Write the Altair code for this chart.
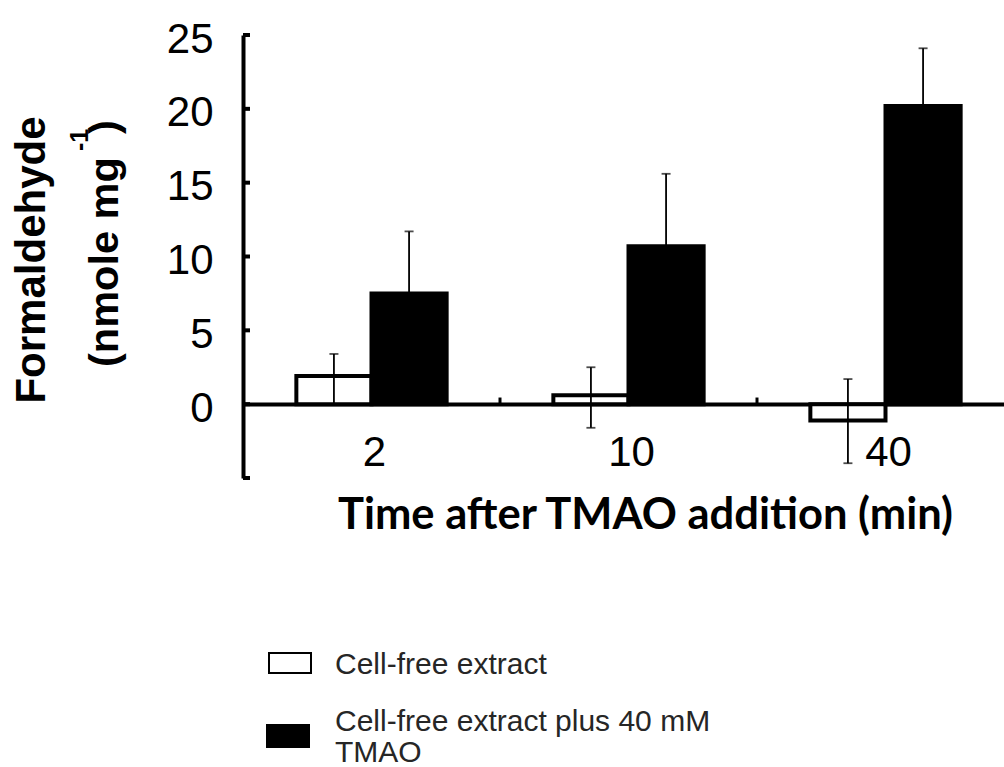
import altair as alt
import pandas as pd

# ---- data ----
times = ["2", "10", "40"]
series = ["Cell-free extract", "Cell-free extract plus 40 mM TMAO"]
cfe_mean = [1.9, 0.6, -1.1]
cfe_low = [0.0, -1.6, -4.0]
cfe_high = [3.4, 2.5, 1.7]
tmao_mean = [7.5, 10.7, 20.2]
tmao_low = [3.3, 5.8, 16.3]
tmao_high = [11.7, 15.6, 24.1]
y_tick_values = [-5, 0, 5, 10, 15, 20, 25]
y_label_values = [0, 5, 10, 15, 20, 25]
group_boundaries = ["10", "40"]

x_title = "Time after TMAO addition (min)"
y_title_1 = "Formaldehyde"
y_title_2a = "(nmole mg"
y_title_2b = "-1"
y_title_2c = ")"
legend_lines_1 = ["Cell-free extract"]
legend_lines_2 = ["Cell-free extract plus 40 mM", "TMAO"]

rows = []
for i, t in enumerate(times):
    rows.append({"time": t, "series": series[0], "mean": cfe_mean[i], "low": cfe_low[i], "high": cfe_high[i]})
    rows.append({"time": t, "series": series[1], "mean": tmao_mean[i], "low": tmao_low[i], "high": tmao_high[i]})
df = pd.DataFrame(rows)

W, H = 761, 443
FONT = "Liberation Sans"

x_scale = alt.Scale(domain=times, range=[0, 771], paddingInner=0, paddingOuter=0)
xo_scale = alt.Scale(domain=series, paddingInner=0, paddingOuter=0.71)
y_scale = alt.Scale(domain=[-5, 25], nice=False, zero=False)
fill_scale = alt.Scale(domain=series, range=["white", "black"])

x_enc = alt.X(
    "time:N",
    scale=x_scale,
    sort=times,
    axis=alt.Axis(
        orient="bottom", offset=-74, domainWidth=4, domainColor="black",
        ticks=False, labelFont=FONT, labelFontSize=42, labelColor="black",
        labelPadding=28, labelAngle=0, labelOffset=3,
        title=x_title, titleFont="Lato", titleFontWeight="bold",
        titleFontSize=43.5, titleColor="black", titleX=402, titleY=124,
        titleBaseline="alphabetic", titleAlign="center",
    ),
)
y_enc = alt.Y(
    "mean:Q",
    scale=y_scale,
    axis=alt.Axis(
        values=y_label_values, domainWidth=4, domainColor="black", ticks=False,
        grid=False, labelFont=FONT, labelFontSize=42, labelColor="black",
        labelPadding=30, labelOffset=4, title=None,
    ),
)

base = alt.Chart(df)

bars = base.mark_bar(stroke="black", strokeWidth=4).encode(
    x=x_enc,
    xOffset=alt.XOffset("series:N", scale=xo_scale, sort=series),
    y=y_enc,
    fill=alt.Fill("series:N", scale=fill_scale, legend=None),
    order=alt.Order("series:N"),
)

err = base.mark_rule(color="black", strokeWidth=1.8).encode(
    x=alt.X("time:N", scale=x_scale, sort=times),
    xOffset=alt.XOffset("series:N", scale=xo_scale, sort=series),
    y=alt.Y("low:Q", scale=y_scale),
    y2="high:Q",
)
cap_hi = base.mark_tick(color="black", thickness=1.8, size=9).encode(
    x=alt.X("time:N", scale=x_scale, sort=times),
    xOffset=alt.XOffset("series:N", scale=xo_scale, sort=series),
    y=alt.Y("high:Q", scale=y_scale),
)
cap_lo = base.mark_tick(color="black", thickness=1.8, size=9).encode(
    x=alt.X("time:N", scale=x_scale, sort=times),
    xOffset=alt.XOffset("series:N", scale=xo_scale, sort=series),
    y=alt.Y("low:Q", scale=y_scale),
)

yt = alt.Chart(pd.DataFrame({"v": y_tick_values})).mark_rule(color="black", strokeWidth=4).encode(
    x=alt.value(0), x2=alt.value(7), y=alt.Y("v:Q", scale=y_scale)
)
xt = alt.Chart(pd.DataFrame({"t": group_boundaries})).mark_rule(color="black", strokeWidth=3).encode(
    x=alt.X("t:N", scale=x_scale, sort=times, bandPosition=0),
    y=alt.datum(0), y2=alt.datum(0.45),
)

def title_text(txt, x, y, size, align):
    return alt.Chart(pd.DataFrame({"s": [txt]})).mark_text(
        angle=270, align=align, baseline="alphabetic", font=FONT,
        fontWeight="bold", fontSize=size, color="black",
    ).encode(x=alt.value(x), y=alt.value(y), text="s:N")

t1 = title_text(y_title_1, -198, 225, 42, "center")
t2 = title_text(y_title_2a, -125, 332, 41.5, "left")
t3 = title_text(y_title_2b, -155, 116, 25, "left")
t4 = title_text(y_title_2c, -125, 99, 41.5, "left")

# ---- legend (drawn below the plot) ----
def legend_box(name, x, x2, y, y2, sw):
    return alt.Chart(pd.DataFrame({"series": [name]})).mark_rect(stroke="black", strokeWidth=sw).encode(
        x=alt.value(x), x2=alt.value(x2), y=alt.value(y), y2=alt.value(y2),
        fill=alt.Fill("series:N", scale=fill_scale, legend=None),
    )

def legend_text(txt, y):
    return alt.Chart(pd.DataFrame({"s": [txt]})).mark_text(
        align="left", baseline="middle", font=FONT, fontSize=30, color="#262626",
    ).encode(x=alt.value(92), y=alt.value(y), text="s:N")

lb1 = legend_box(series[0], 26, 68, 618, 638, 2)
lb2 = legend_box(series[1], 24, 66, 690, 712, 2)
lt1 = legend_text(legend_lines_1[0], 630)
lt2 = legend_text(legend_lines_2[0], 687)
lt3 = legend_text(legend_lines_2[1], 718)

chart = alt.layer(
    bars, err, cap_hi, cap_lo, yt, xt, t1, t2, t3, t4, lb1, lb2, lt1, lt2, lt3
).properties(
    width=W, height=H,
    autosize=alt.AutoSizeParams(type="none"),
    padding={"left": 243, "top": 35, "right": 0, "bottom": 289},
    background="white",
).configure_view(stroke=None)

chart.save("out.html", embed_options={"renderer": "svg", "actions": False})
